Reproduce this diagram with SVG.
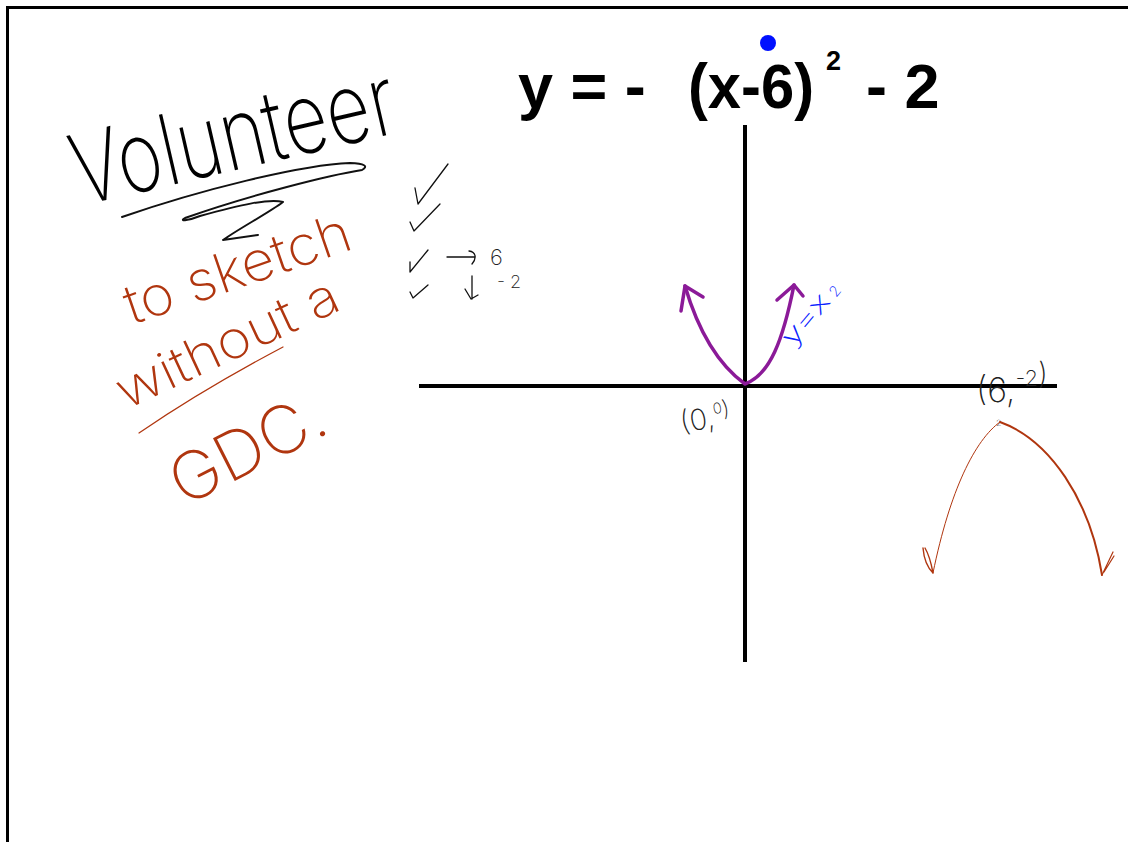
<svg xmlns="http://www.w3.org/2000/svg" width="1128" height="842" viewBox="0 0 1128 842">
<style>
.hand{font-family:Inter,"Open Sans","Liberation Sans",sans-serif;font-weight:200}
.ink{fill:none;stroke:#111;stroke-linecap:round;stroke-linejoin:round}
.red{fill:#b0360f}
.redline{fill:none;stroke:#b0360f;stroke-linecap:round;stroke-linejoin:round}
.purple{fill:none;stroke:#8b1a98;stroke-width:3.5;stroke-linecap:round;stroke-linejoin:round}
.axis{stroke:#000;stroke-width:4;stroke-linecap:butt}
.eq{font-family:"Liberation Sans",Arial,sans-serif;font-weight:bold;fill:#000}
</style>
<rect width="1128" height="842" fill="#fff"/>
<path d="M7.5,842 V7.5 H1128" fill="none" stroke="#000" stroke-width="3"/>

<g id="title">
<text class="eq" x="518" y="108" font-size="63" xml:space="preserve">y = -</text>
<text class="eq" x="688" y="108" font-size="63" textLength="126" lengthAdjust="spacingAndGlyphs">(x-6)</text>
<text class="eq" x="826" y="70" font-size="27">2</text>
<text class="eq" x="866" y="108" font-size="63" xml:space="preserve">- 2</text>
<circle cx="768" cy="43" r="8" fill="#0010ff"/>
</g>

<g id="volunteer">
<text class="hand" transform="translate(80,206) rotate(-13)" font-size="98" textLength="330" lengthAdjust="spacingAndGlyphs" fill="#000">Volunteer</text>
<path class="ink" stroke-width="2" d="M122,217 C200,190 300,165 350,163 Q372,164 362,170 C330,175 250,195 185,218 C178,222 190,220 200,216 C240,205 270,198 283,202 C270,212 240,228 223,240 L258,235"/>
</g>

<g id="sketch-note">
<text class="hand red" transform="translate(132,325) rotate(-19)" font-size="55" textLength="236" lengthAdjust="spacingAndGlyphs">to sketch</text>
<text class="hand red" transform="translate(126,410) rotate(-25)" font-size="52" textLength="240" lengthAdjust="spacingAndGlyphs">without a</text>
<path class="redline" stroke-width="1.2" d="M139,433 C180,405 230,375 283,347"/>
<text class="hand red" transform="translate(184,507) rotate(-27)" font-size="66" textLength="166" lengthAdjust="spacingAndGlyphs">GDC.</text>
</g>

<g id="checklist">
<path class="ink" stroke-width="1.3" stroke="#333" d="M415,188 L418,204 L448,164"/>
<path class="ink" stroke-width="1.3" stroke="#333" d="M410,222 L414,231 L440,204"/>
<path class="ink" stroke-width="1.3" stroke="#333" d="M410,262 L410,272 L428,250"/>
<path class="ink" stroke-width="1.3" stroke="#333" d="M447,257 L475,257 M469,251 C476,252 477,258 472,264"/>
<text class="hand" x="490" y="265" font-size="22" fill="#222">6</text>
<path class="ink" stroke-width="1.3" stroke="#333" d="M410,292 L413,298 L428,285"/>
<path class="ink" stroke-width="1.3" stroke="#333" d="M472,276 L472,299 M465,289 L471,299 L478,295"/>
<text class="hand" x="497" y="288" font-size="18" fill="#222" xml:space="preserve">- 2</text>
</g>

<g id="axes">
<line class="axis" x1="419" y1="386" x2="1057" y2="386"/>
<line class="axis" x1="745" y1="125" x2="745" y2="662"/>
</g>

<g id="parabola-base">
<path class="purple" d="M685,286 C695,320 712,360 745,384 C770,375 783,340 794,285"/>
<path class="purple" d="M681,311 L685,286 L703,297"/>
<path class="purple" d="M777,300 L794,285 L803,296"/>
<text class="hand" transform="translate(793,348) rotate(-50)" font-size="26" textLength="60" lengthAdjust="spacingAndGlyphs" fill="#0a22ff">y=x</text>
<text class="hand" transform="translate(836,298) rotate(-50)" font-size="15" fill="#0a22ff">2</text>
<g transform="translate(682,433) rotate(-10)">
<text class="hand" font-size="29" fill="#222">(0,<tspan font-size="15" dy="-13">0</tspan><tspan dy="4" font-size="22">)</tspan></text>
</g>
</g>

<g id="parabola-shifted">
<text class="hand" x="976" y="402" font-size="34" fill="#222">(6,<tspan font-size="22" dy="-16">-2</tspan><tspan font-size="30" dy="-2">)</tspan></text>
<text class="hand" x="996" y="426" font-size="9" fill="#222">2</text>
<path class="redline" stroke-width="1" d="M1000,422 C975,440 950,490 933,573"/>
<path class="redline" stroke-width="2" d="M1000,422 C1050,440 1090,500 1102,575"/>
<path class="redline" stroke-width="1.4" d="M923,548 C924,560 928,568 933,573 C931,562 928,553 925,548"/>
<path class="redline" stroke-width="1.2" d="M1102,575 L1113,552 M1104,572 L1114,556"/>
</g>
</svg>
